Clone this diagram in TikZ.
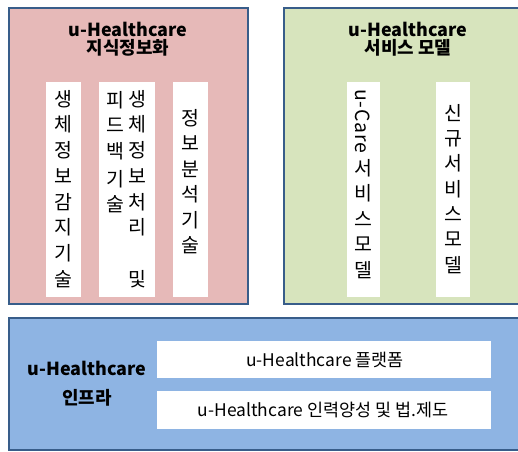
\documentclass[tikz,border=0pt]{standalone}
\usepackage{fontspec}
\setmainfont{Noto Sans CJK KR}
\definecolor{pinkfill}{HTML}{E6B9B8}
\definecolor{greenfill}{HTML}{D7E4BD}
\definecolor{bluefill}{HTML}{8EB4E3}
\definecolor{edge}{HTML}{385D8A}
\begin{document}
\begin{tikzpicture}[x=1bp,y=-1bp,
  panel/.style={draw=edge,line width=2bp},
  wbox/.style={fill=white,draw=none},
  vch/.style={inner sep=0pt,font=\fontsize{19.5}{22}\selectfont},
  ttl/.style={inner sep=0pt,font=\fontsize{18}{21}\selectfont\bfseries},
  btxt/.style={inner sep=0pt,font=\fontsize{17.5}{21}\selectfont}]
\useasboundingbox (0,0) rectangle (518,452);
\clip (0,0) rectangle (518,452);
% panels
\fill[white] (0,0) rectangle (518,452);
\draw[panel,fill=pinkfill] (9,8) rectangle (248,304);
\draw[panel,fill=greenfill] (284,8) rectangle (540,304);
\draw[panel,fill=bluefill] (9,318) rectangle (540,450);
% white columns
\fill[wbox] (46,82) rectangle (81,297);
\fill[wbox] (99,82) rectangle (155,297);
\fill[wbox] (173,82) rectangle (208,297);
\fill[wbox] (347,82) rectangle (380,297);
\fill[wbox] (436,82) rectangle (470,297);
\fill[wbox] (157,341) rectangle (491,378);
\fill[wbox] (157,391) rectangle (491,429);
% titles
\node[ttl] (t1a) at (128,29) {u-Healthcare};
\node[ttl] (t1b) at (128,48) {지식정보화};
\node[ttl] (t2a) at (408,29) {u-Healthcare};
\node[ttl] (t2b) at (408,48) {서비스 모델};
\node[ttl] (t3a) at (87,368) {u-Healthcare};
\node[ttl] (t3b) at (87,398) {인프라};
% vertical texts
\foreach \c [count=\i] in {생,체,정,보,감,지,기,술}
  \node[vch] (a\i) at (63,{99+(\i-1)*25.7}) {\c};
\foreach \c/\y [count=\i] in {생/99,체/124.7,정/150.4,보/176.1,처/201.8,리/227.5,및/278.9}
  \node[vch] (b\i) at (137,\y) {\c};
\foreach \c/\y [count=\i] in {피/100,드/125.5,백/151,기/179,술/204.5}
  \node[vch] (c\i) at (115,\y) {\c};
\foreach \c [count=\i] in {정,보,분,석,기,술}
  \node[vch] (d\i) at (190,{118+(\i-1)*25.5}) {\c};
\node[vch,rotate=-90,font=\fontsize{19.5}{22}\selectfont\addfontfeature{LetterSpace=4}] (e0) at (363,121) {u-Care};
\foreach \c [count=\i] in {서,비,스,모,델}
  \node[vch] (e\i) at (363,{168+(\i-1)*25.5}) {\c};
\foreach \c [count=\i] in {신,규,서,비,스,모,델}
  \node[vch] (f\i) at (453,{113+(\i-1)*25.3}) {\c};
% bottom texts
\node[btxt] (g1) at (325,360) {u-Healthcare 플랫폼};
\node[btxt] (g2) at (323,410) {u-Healthcare 인력양성 및 법.제도};
\end{tikzpicture}
\end{document}
